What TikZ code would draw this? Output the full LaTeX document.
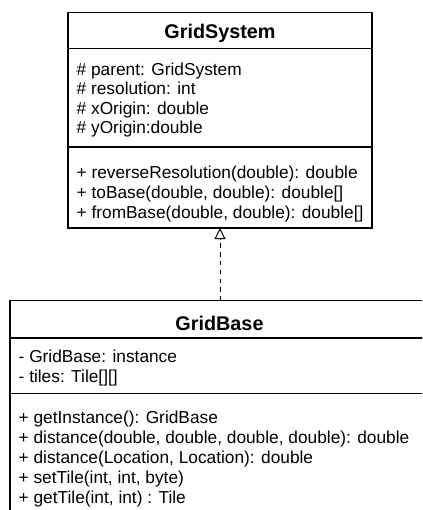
\documentclass[tikz,border=0pt]{standalone}
\usepackage{fontspec}
\setmainfont{Liberation Sans}
\usetikzlibrary{arrows.meta}
\begin{document}
\begin{tikzpicture}[x=1pt,y=-1pt,
  classbox/.style={draw=black, line width=1.2pt, inner sep=0pt, outer sep=0pt, anchor=north west},
  compart/.style={draw=black, line width=1.2pt},
  classname/.style={font=\fontsize{19.8}{23}\selectfont\bfseries, anchor=base, inner sep=0pt},
  member/.style={font=\fontsize{17.3}{20}\selectfont, anchor=base west, inner sep=0pt},
  realizes/.style={draw=black, line width=1pt, dash pattern=on 4.4pt off 4.4pt,
    -{Triangle[open, length=11pt, width=11pt, line width=1pt]}}
  ]
\useasboundingbox (0,0) rectangle (422,510);
\clip (0,0) rectangle (422,510);
\fill[white] (0,0) rectangle (422,510);

% GridSystem class
\node[classbox, minimum width=304pt, minimum height=215.5pt] (gs) at (68,12.5) {};
\draw[compart] (68,48.5) -- (372,48.5);
\draw[compart] (68,147) -- (372,147);
\node[classname] (gsname) at (220,39) {GridSystem};
\node[member] (gsa1) at (76.5,75.5) {\# parent: GridSystem};
\node[member] (gsa2) at (76.5,94.8) {\# resolution: int};
\node[member] (gsa3) at (76.5,114.1) {\# xOrigin: double};
\node[member] (gsa4) at (76.5,133.4) {\# yOrigin:double};
\node[member] (gsm1) at (76.5,178.5) {+ reverseResolution(double): double};
\node[member] (gsm2) at (76.5,198.3) {+ toBase(double, double): double[]};
\node[member] (gsm3) at (76.5,218.1) {+ fromBase(double, double): double[]};

% GridBase class
\node[classbox, minimum width=420pt, minimum height=240pt] (gb) at (10,300.5) {};
\draw[compart] (10,338) -- (430,338);
\draw[compart] (10,393.5) -- (430,393.5);
\node[classname] (gbname) at (219.5,330) {GridBase};
\node[member] (gba1) at (18.5,362.5) {- GridBase: instance};
\node[member] (gba2) at (18.5,382.3) {- tiles: Tile[][]};
\node[member] (gbm1) at (18.5,423.5) {+ getInstance(): GridBase};
\node[member] (gbm2) at (18.5,443.6) {+ distance(double, double, double, double): double};
\node[member] (gbm3) at (18.5,463.7) {+ distance(Location, Location): double};
\node[member] (gbm4) at (18.5,483.8) {+ setTile(int, int, byte)};
\node[member] (gbm5) at (18.5,503.5) {+ getTile(int, int) : Tile};

% realization: GridBase implements GridSystem
\draw[realizes] (gb.north -| gs.south) -- (gs.south);
\end{tikzpicture}
\end{document}
